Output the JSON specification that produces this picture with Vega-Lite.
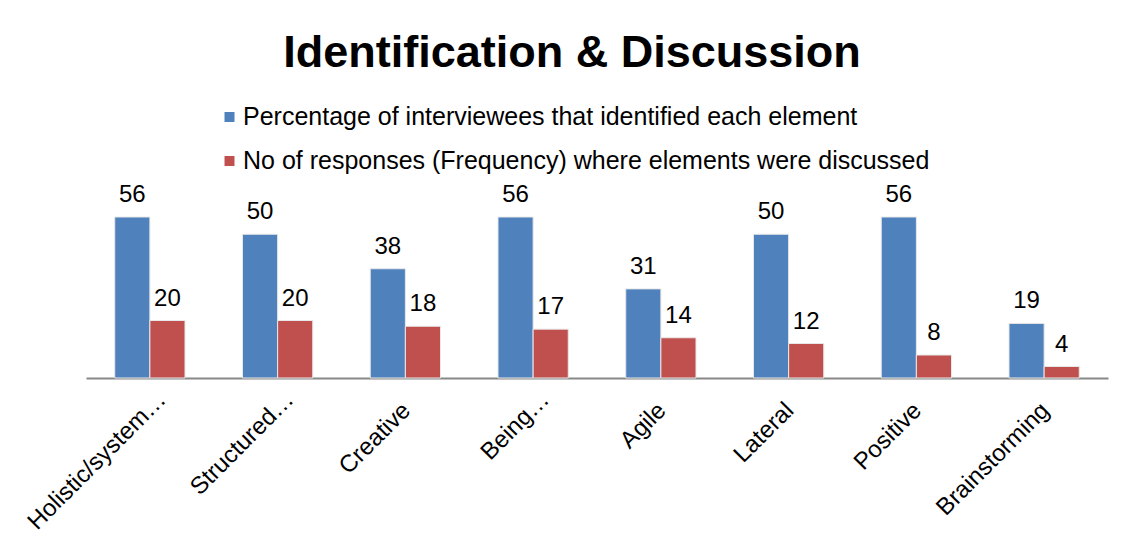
{
  "$schema": "https://vega.github.io/schema/vega-lite/v6.json",
  "autosize": "none",
  "width": 1022,
  "height": 172.5,
  "padding": {"left": 86, "top": 205.5, "right": 24, "bottom": 166},
  "background": "white",
  "title": {
    "text": "Identification & Discussion",
    "font": "Liberation Sans",
    "fontSize": 45,
    "fontWeight": "bold",
    "color": "black",
    "anchor": "middle",
    "baseline": "alphabetic",
    "dx": -25,
    "offset": -7
  },
  "data": {
    "values": [
      {"element": "Holistic/system…", "series": "Percentage of interviewees that identified each element", "value": 56},
      {"element": "Holistic/system…", "series": "No of responses (Frequency) where elements were discussed", "value": 20},
      {"element": "Structured…", "series": "Percentage of interviewees that identified each element", "value": 50},
      {"element": "Structured…", "series": "No of responses (Frequency) where elements were discussed", "value": 20},
      {"element": "Creative", "series": "Percentage of interviewees that identified each element", "value": 38},
      {"element": "Creative", "series": "No of responses (Frequency) where elements were discussed", "value": 18},
      {"element": "Being…", "series": "Percentage of interviewees that identified each element", "value": 56},
      {"element": "Being…", "series": "No of responses (Frequency) where elements were discussed", "value": 17},
      {"element": "Agile", "series": "Percentage of interviewees that identified each element", "value": 31},
      {"element": "Agile", "series": "No of responses (Frequency) where elements were discussed", "value": 14},
      {"element": "Lateral", "series": "Percentage of interviewees that identified each element", "value": 50},
      {"element": "Lateral", "series": "No of responses (Frequency) where elements were discussed", "value": 12},
      {"element": "Positive", "series": "Percentage of interviewees that identified each element", "value": 56},
      {"element": "Positive", "series": "No of responses (Frequency) where elements were discussed", "value": 8},
      {"element": "Brainstorming", "series": "Percentage of interviewees that identified each element", "value": 19},
      {"element": "Brainstorming", "series": "No of responses (Frequency) where elements were discussed", "value": 4}
    ]
  },
  "encoding": {
    "x": {
      "field": "element",
      "type": "nominal",
      "sort": null,
      "scale": {"paddingInner": 0.45, "paddingOuter": 0.225},
      "axis": {
        "title": null,
        "labelAngle": -45,
        "labelFont": "Liberation Sans",
        "labelFontSize": 24,
        "labelColor": "black",
        "labelPadding": {"condition": {"test": "indexof(datum.value, '…') >= 0", "value": 9}, "value": 20},
        "labelOffset": {"condition": {"test": "indexof(datum.value, '…') >= 0", "value": 4}, "value": -7},
        "ticks": false,
        "domainColor": "#888888",
        "domainWidth": 2,
        "labelLimit": 400
      }
    },
    "xOffset": {
      "field": "series",
      "type": "nominal",
      "sort": ["Percentage of interviewees that identified each element", "No of responses (Frequency) where elements were discussed"],
      "scale": {"paddingInner": 0, "paddingOuter": 0}
    },
    "y": {
      "field": "value",
      "type": "quantitative",
      "scale": {"domain": [0, 60], "nice": false},
      "axis": null
    }
  },
  "layer": [
    {
      "mark": {"type": "bar", "stroke": "#e8e8e8", "strokeWidth": 1},
      "encoding": {
        "color": {
          "field": "series",
          "type": "nominal",
          "sort": ["Percentage of interviewees that identified each element", "No of responses (Frequency) where elements were discussed"],
          "scale": {"range": ["#4F81BD", "#C0504D"]},
          "legend": {
            "title": null,
            "orient": "none",
            "legendX": 131,
            "legendY": -101,
            "symbolType": "square",
            "symbolSize": 100,
            "symbolStrokeWidth": 0,
            "labelFont": "Liberation Sans",
            "labelFontSize": 25,
            "labelColor": "black",
            "labelOffset": 1,
            "labelLimit": 800,
            "rowPadding": 18
          }
        }
      }
    },
    {
      "mark": {"type": "text", "font": "Liberation Sans", "fontSize": 24, "color": "black", "baseline": "alphabetic", "dy": -15},
      "encoding": {
        "text": {"field": "value", "type": "quantitative"}
      }
    }
  ],
  "config": {
    "view": {"stroke": null}
  }
}
